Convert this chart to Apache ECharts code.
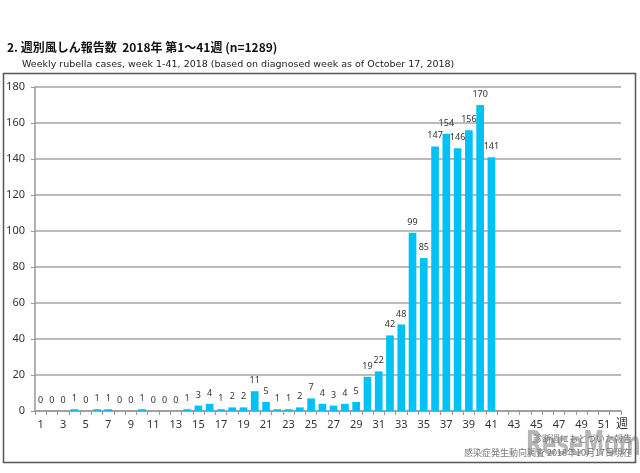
<!DOCTYPE html>
<html><head><meta charset="utf-8">
<script src="https://cdn.jsdelivr.net/npm/echarts@6/dist/echarts.min.js"></script>
<style>html,body{margin:0;padding:0;background:#fff}#c{width:640px;height:473px}</style>
</head><body><div id="c"></div>
<script>
const weeks = Array.from({length:52},(_,i)=>String(i+1));
const cases = [0,0,0,1,0,1,1,0,0,1,0,0,0,1,3,4,1,2,2,11,5,1,1,2,7,4,3,4,5,19,22,42,48,99,85,147,154,146,156,170,141];
const yTicks = {min:0,max:180,interval:20};
const titleText = '2. 週別風しん報告数  2018年 第1～41週 (n=1289)';
const subText = 'Weekly rubella cases, week 1-41, 2018 (based on diagnosed week as of October 17, 2018)';
const noteLines = ['診断週にもとづいた報告','感染症発生動向調査 2018年10月17日現在'];

const chart = echarts.init(document.getElementById('c'));
chart.setOption({
  animation:false,
  backgroundColor:'#fff',
  title:[
    {text:titleText,left:7,top:41,padding:0,textStyle:{fontFamily:'Noto Sans CJK JP',fontSize:12,fontWeight:'bold',color:'#111'}},
    {text:subText,left:22,top:60,padding:0,textStyle:{fontFamily:'DejaVu Sans',fontSize:9.5,fontWeight:'normal',color:'#222'}}
  ],
  graphic:[
    {type:'rect',shape:{x:3.5,y:73.5,width:632,height:389},style:{fill:'none',stroke:'#555',lineWidth:1.5},z:-1},
    {type:'text',left:616,top:417,style:{text:'週',font:'12px "Noto Sans CJK JP"',fill:'#333'}},
    {type:'text',x:526,y:429,scaleX:0.62,style:{text:'ReseMom',font:'bold 34px "DejaVu Sans"',fill:'rgba(110,110,110,0.5)'}},
    {type:'text',right:8,top:434,style:{text:noteLines[0],font:'9px "Noto Sans CJK JP"',fill:'#777',align:'right'}},
    {type:'text',right:8,top:448,style:{text:noteLines[1],font:'9px "Noto Sans CJK JP"',fill:'#777',align:'right'}}
  ],
  grid:{left:35,right:19,top:87,bottom:62},
  xAxis:{
    type:'category',data:weeks,
    axisLine:{lineStyle:{color:'#999',width:1.5}},
    axisTick:{show:true,interval:0,length:4,lineStyle:{color:'#999'}},
    axisLabel:{interval:1,color:'#333',fontFamily:'Noto Sans',fontSize:11,margin:8}
  },
  yAxis:{
    type:'value',min:yTicks.min,max:yTicks.max,interval:yTicks.interval,
    axisLine:{show:true,lineStyle:{color:'#999',width:1.5}},
    axisTick:{show:true,length:4,inside:false,lineStyle:{color:'#999'}},
    axisLabel:{color:'#333',fontFamily:'Noto Sans',fontSize:11,margin:10},
    splitLine:{lineStyle:{color:'#bbb',width:2}}
  },
  series:[{
    type:'bar',data:cases,barCategoryGap:'32%',
    itemStyle:{color:'#00C1F5'},
    label:{show:true,position:'top',distance:6,color:'#333',fontFamily:'Noto Sans',fontSize:9}
  }]
});
</script></body></html>
